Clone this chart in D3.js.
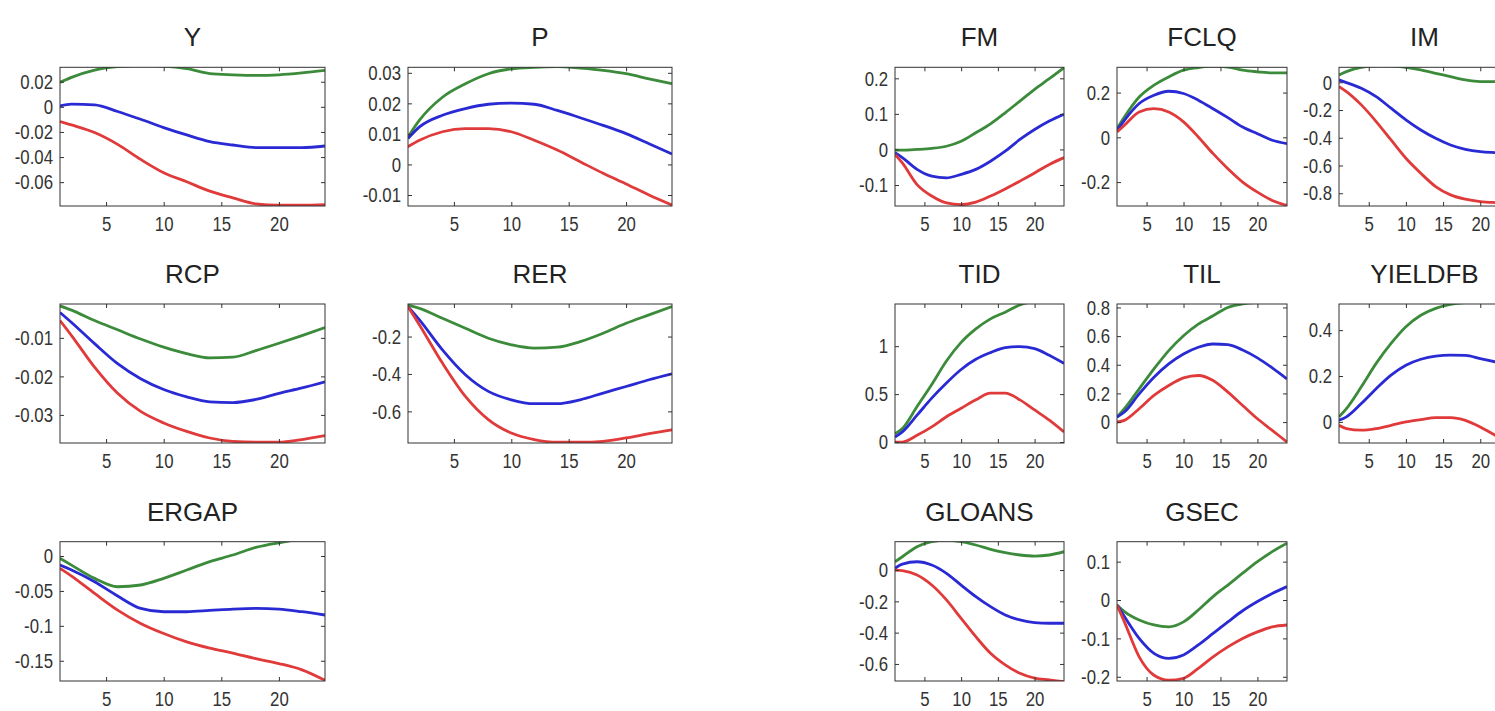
<!DOCTYPE html>
<html lang="en">
<head>
<meta charset="UTF-8">
<title>Impulse responses</title>
<style>
    body { margin: 0; background: #fff; }
    svg { display: block; background: #fff; }
    .frame { fill: none; stroke: #333; stroke-width: 1; }
    .axis line { stroke: #333; }
    .axis path { display: none; }
    .axis text { font-family: "Liberation Sans", Arial, sans-serif; font-size: 21px; fill: #333; }
    .title { font-family: "Liberation Sans", Arial, sans-serif; font-size: 26px; fill: #222; text-anchor: middle; }
    .line { fill: none; stroke-width: 2.8; }
</style>
</head>
<body>
<div id="chart"></div>
<script src="https://cdn.jsdelivr.net/npm/d3@7/dist/d3.min.js"></script>
<script>
    // horizon shared by every panel
    var periods = [1, 2, 4, 6, 8, 10, 12, 14, 16, 18, 20, 22, 24];
    var xTicks = [5, 10, 15, 20];

    // upper (green), median (blue), lower (red) bands per variable
    var Y_hi  = [0.0195, 0.0235, 0.0293, 0.032, 0.033, 0.0325, 0.0305, 0.0265, 0.0255, 0.025, 0.0255, 0.027, 0.029];
    var Y_mid = [0.0008, 0.0021, 0.0016, -0.0037, -0.0099, -0.0165, -0.0224, -0.0277, -0.0304, -0.0325, -0.0325, -0.0325, -0.0312];
    var Y_lo  = [-0.0117, -0.0144, -0.0205, -0.0299, -0.0419, -0.0525, -0.0597, -0.0672, -0.0725, -0.0773, -0.0784, -0.0784, -0.0779];
    var Y_ticks = [0.02, 0, -0.02, -0.04, -0.06];
    var Y_lim = [-0.079, 0.0315];

    var P_hi  = [0.009, 0.0145, 0.022, 0.0264, 0.0297, 0.0313, 0.0318, 0.032, 0.0315, 0.0308, 0.0297, 0.028, 0.0264];
    var P_mid = [0.0085, 0.0123, 0.0161, 0.0183, 0.0197, 0.0201, 0.0197, 0.0177, 0.0153, 0.0128, 0.0101, 0.0068, 0.0034];
    var P_lo  = [0.0058, 0.0079, 0.0107, 0.0117, 0.0117, 0.0107, 0.0079, 0.0047, 0.0009, -0.0029, -0.0064, -0.01, -0.0133];
    var P_ticks = [0.03, 0.02, 0.01, 0, -0.01];
    var P_lim = [-0.0136, 0.0318];

    var RCP_hi  = [-0.0017, -0.0028, -0.0055, -0.0079, -0.0103, -0.0124, -0.0141, -0.0152, -0.015, -0.0133, -0.0114, -0.0094, -0.0073];
    var RCP_mid = [-0.0034, -0.006, -0.0115, -0.0167, -0.0206, -0.0234, -0.0253, -0.0266, -0.0268, -0.026, -0.0244, -0.023, -0.0214];
    var RCP_lo  = [-0.0055, -0.0094, -0.0176, -0.0244, -0.0291, -0.0321, -0.0343, -0.036, -0.0369, -0.0371, -0.0371, -0.0364, -0.0354];
    var RCP_ticks = [-0.01, -0.02, -0.03];
    var RCP_lim = [-0.0373, -0.0012];

    var RER_hi  = [-0.031, -0.049, -0.102, -0.156, -0.209, -0.244, -0.262, -0.257, -0.227, -0.182, -0.129, -0.084, -0.04];
    var RER_mid = [-0.04, -0.111, -0.271, -0.404, -0.493, -0.538, -0.559, -0.559, -0.538, -0.502, -0.467, -0.431, -0.399];
    var RER_lo  = [-0.04, -0.138, -0.342, -0.52, -0.644, -0.716, -0.751, -0.765, -0.765, -0.76, -0.742, -0.719, -0.698];
    var RER_ticks = [-0.2, -0.4, -0.6];
    var RER_lim = [-0.769, -0.026];

    var ERGAP_hi  = [-0.0033, -0.013, -0.032, -0.044, -0.0415, -0.032, -0.02, -0.008, 0.0014, 0.0124, 0.019, 0.024, 0.027];
    var ERGAP_mid = [-0.013, -0.02, -0.0368, -0.0573, -0.075, -0.0798, -0.0798, -0.078, -0.076, -0.075, -0.076, -0.0798, -0.0845];
    var ERGAP_lo  = [-0.0177, -0.0287, -0.0535, -0.0774, -0.0965, -0.111, -0.123, -0.132, -0.139, -0.147, -0.154, -0.163, -0.178];
    var ERGAP_ticks = [0, -0.05, -0.1, -0.15];
    var ERGAP_lim = [-0.179, 0.0205];

    var FM_hi  = [-0.002, -0.002, 0, 0.003, 0.009, 0.023, 0.047, 0.072, 0.103, 0.136, 0.169, 0.199, 0.23];
    var FM_mid = [-0.009, -0.023, -0.056, -0.075, -0.08, -0.07, -0.056, -0.033, -0.005, 0.028, 0.056, 0.08, 0.099];
    var FM_lo  = [-0.014, -0.038, -0.099, -0.131, -0.15, -0.155, -0.148, -0.131, -0.111, -0.089, -0.066, -0.042, -0.023];
    var FM_ticks = [0.2, 0.1, 0, -0.1];
    var FM_lim = [-0.159, 0.231];

    var FCLQ_hi  = [0.039, 0.091, 0.18, 0.233, 0.27, 0.3, 0.312, 0.318, 0.314, 0.3, 0.293, 0.288, 0.288];
    var FCLQ_mid = [0.031, 0.076, 0.151, 0.188, 0.206, 0.196, 0.166, 0.128, 0.088, 0.046, 0.016, -0.013, -0.028];
    var FCLQ_lo  = [0.024, 0.054, 0.113, 0.128, 0.113, 0.069, 0.0015, -0.073, -0.14, -0.2, -0.245, -0.282, -0.304];
    var FCLQ_ticks = [0.2, 0, -0.2];
    var FCLQ_lim = [-0.307, 0.313];

    var IM_hi  = [0.053, 0.077, 0.108, 0.12, 0.118, 0.108, 0.089, 0.065, 0.041, 0.017, 0.005, 0.005, 0.006];
    var IM_mid = [0.017, -0.002, -0.043, -0.103, -0.187, -0.271, -0.344, -0.404, -0.452, -0.483, -0.5, -0.507, -0.512];
    var IM_lo  = [-0.031, -0.067, -0.163, -0.283, -0.416, -0.548, -0.656, -0.752, -0.812, -0.843, -0.86, -0.867, -0.87];
    var IM_ticks = [0, -0.2, -0.4, -0.6, -0.8];
    var IM_lim = [-0.892, 0.108];

    var TID_hi  = [0.088, 0.141, 0.37, 0.6, 0.845, 1.04, 1.18, 1.285, 1.355, 1.43, 1.47, 1.49, 1.5];
    var TID_mid = [0.053, 0.106, 0.28, 0.458, 0.616, 0.757, 0.863, 0.933, 0.986, 0.996, 0.975, 0.905, 0.82];
    var TID_lo  = [0, 0, 0.07, 0.158, 0.264, 0.352, 0.44, 0.51, 0.51, 0.44, 0.335, 0.229, 0.106];
    var TID_ticks = [1, 0.5, 0];
    var TID_lim = [-0.01, 1.44];

    var TIL_hi  = [0.035, 0.093, 0.232, 0.371, 0.499, 0.603, 0.684, 0.742, 0.8, 0.825, 0.835, 0.84, 0.84];
    var TIL_mid = [0.035, 0.07, 0.197, 0.313, 0.406, 0.475, 0.522, 0.545, 0.54, 0.503, 0.448, 0.378, 0.301];
    var TIL_lo  = [0, 0.012, 0.093, 0.186, 0.255, 0.308, 0.325, 0.29, 0.209, 0.116, 0.023, -0.058, -0.139];
    var TIL_ticks = [0.8, 0.6, 0.4, 0.2, 0];
    var TIL_lim = [-0.146, 0.824];

    var YIELDFB_hi  = [0.022, 0.058, 0.153, 0.255, 0.342, 0.415, 0.465, 0.495, 0.512, 0.52, 0.52, 0.52, 0.51];
    var YIELDFB_mid = [0.007, 0.022, 0.08, 0.145, 0.204, 0.247, 0.273, 0.287, 0.291, 0.29, 0.276, 0.262, 0.247];
    var YIELDFB_lo  = [-0.015, -0.029, -0.036, -0.029, -0.015, 0, 0.01, 0.019, 0.019, 0.007, -0.022, -0.058, -0.087];
    var YIELDFB_ticks = [0.4, 0.2, 0];
    var YIELDFB_lim = [-0.092, 0.514];

    var GLOANS_hi  = [0.053, 0.085, 0.149, 0.181, 0.19, 0.181, 0.16, 0.132, 0.111, 0.096, 0.089, 0.096, 0.117];
    var GLOANS_mid = [0.011, 0.038, 0.053, 0.032, -0.021, -0.096, -0.17, -0.234, -0.287, -0.319, -0.336, -0.34, -0.34];
    var GLOANS_lo  = [0, -0.004, -0.032, -0.096, -0.191, -0.309, -0.426, -0.532, -0.606, -0.66, -0.691, -0.702, -0.713];
    var GLOANS_ticks = [0, -0.2, -0.4, -0.6];
    var GLOANS_lim = [-0.709, 0.181];

    var GSEC_hi  = [-0.013, -0.03, -0.052, -0.065, -0.07, -0.057, -0.026, 0.009, 0.039, 0.07, 0.1, 0.126, 0.148];
    var GSEC_mid = [-0.013, -0.043, -0.1, -0.139, -0.152, -0.143, -0.117, -0.087, -0.057, -0.028, -0.004, 0.017, 0.035];
    var GSEC_lo  = [-0.013, -0.057, -0.148, -0.196, -0.209, -0.204, -0.178, -0.148, -0.122, -0.1, -0.083, -0.07, -0.065];
    var GSEC_ticks = [0.1, 0, -0.1, -0.2];
    var GSEC_lim = [-0.211, 0.152];

    // layout of the grid (pixel columns / rows)
    var cols = [[60, 325], [408, 672], [895, 1064], [1117, 1287], [1339, 1510]];
    var rows = [[67.3, 206], [304, 443], [541.7, 681]];
    var colors = { hi: '#3b8b3b', mid: '#2a2ad4', lo: '#e03a3a' };

    var panels = [
        { name: 'Y',       c: 0, r: 0, hi: Y_hi, mid: Y_mid, lo: Y_lo, ticks: Y_ticks, lim: Y_lim },
        { name: 'P',       c: 1, r: 0, hi: P_hi, mid: P_mid, lo: P_lo, ticks: P_ticks, lim: P_lim },
        { name: 'RCP',     c: 0, r: 1, hi: RCP_hi, mid: RCP_mid, lo: RCP_lo, ticks: RCP_ticks, lim: RCP_lim },
        { name: 'RER',     c: 1, r: 1, hi: RER_hi, mid: RER_mid, lo: RER_lo, ticks: RER_ticks, lim: RER_lim },
        { name: 'ERGAP',   c: 0, r: 2, hi: ERGAP_hi, mid: ERGAP_mid, lo: ERGAP_lo, ticks: ERGAP_ticks, lim: ERGAP_lim },
        { name: 'FM',      c: 2, r: 0, hi: FM_hi, mid: FM_mid, lo: FM_lo, ticks: FM_ticks, lim: FM_lim },
        { name: 'FCLQ',    c: 3, r: 0, hi: FCLQ_hi, mid: FCLQ_mid, lo: FCLQ_lo, ticks: FCLQ_ticks, lim: FCLQ_lim },
        { name: 'IM',      c: 4, r: 0, hi: IM_hi, mid: IM_mid, lo: IM_lo, ticks: IM_ticks, lim: IM_lim },
        { name: 'TID',     c: 2, r: 1, hi: TID_hi, mid: TID_mid, lo: TID_lo, ticks: TID_ticks, lim: TID_lim },
        { name: 'TIL',     c: 3, r: 1, hi: TIL_hi, mid: TIL_mid, lo: TIL_lo, ticks: TIL_ticks, lim: TIL_lim },
        { name: 'YIELDFB', c: 4, r: 1, hi: YIELDFB_hi, mid: YIELDFB_mid, lo: YIELDFB_lo, ticks: YIELDFB_ticks, lim: YIELDFB_lim },
        { name: 'GLOANS',  c: 2, r: 2, hi: GLOANS_hi, mid: GLOANS_mid, lo: GLOANS_lo, ticks: GLOANS_ticks, lim: GLOANS_lim },
        { name: 'GSEC',    c: 3, r: 2, hi: GSEC_hi, mid: GSEC_mid, lo: GSEC_lo, ticks: GSEC_ticks, lim: GSEC_lim }
    ];

    var width = 1495, height = 711;

    var svg = d3.select('#chart')
        .append('svg')
        .attr('width', width)
        .attr('height', height);

    var fmt = function(d) { return d === 0 ? '0' : String(d); };

    panels.forEach(function(p, i) {
        var x0 = cols[p.c][0], x1 = cols[p.c][1];
        var y0 = rows[p.r][0], y1 = rows[p.r][1];
        var w = x1 - x0, h = y1 - y0;

        var xScale = d3.scaleLinear().domain([1, 24]).range([0, w]);
        var yScale = d3.scaleLinear().domain(p.lim).range([h, 0]);

        var g = svg.append('g').attr('transform', 'translate(' + x0 + ',' + y0 + ')');

        g.append('clipPath').attr('id', 'clip' + i)
            .append('rect').attr('width', w).attr('height', h);

        // title
        g.append('text').attr('class', 'title')
            .attr('x', w / 2).attr('y', -21)
            .text(p.name);

        // lines
        var line = d3.line()
            .x(function(d, k) { return xScale(periods[k]); })
            .y(function(d) { return yScale(d); })
            .curve(d3.curveMonotoneX);

        ['hi', 'mid', 'lo'].forEach(function(key) {
            g.append('path')
                .attr('class', 'line')
                .attr('clip-path', 'url(#clip' + i + ')')
                .attr('stroke', colors[key])
                .attr('d', line(p[key]));
        });

        // axes, ticks pointing inward like matlab
        var left = g.append('g').attr('class', 'axis')
            .call(d3.axisLeft(yScale).tickValues(p.ticks).tickFormat(fmt).tickSize(-4).tickPadding(7));
        left.selectAll('text')
            .attr('x', -7 / 0.8)
            .attr('transform', 'scale(0.8,1)');

        g.append('g').attr('class', 'axis')
            .attr('transform', 'translate(' + w + ',0)')
            .call(d3.axisRight(yScale).tickValues(p.ticks).tickFormat('').tickSize(-4));

        var bottom = g.append('g').attr('class', 'axis')
            .attr('transform', 'translate(0,' + h + ')')
            .call(d3.axisBottom(xScale).tickValues(xTicks).tickFormat(d3.format('d')).tickSize(-4));
        bottom.selectAll('text')
            .attr('y', 25)
            .attr('dy', 0)
            .attr('transform', 'scale(0.8,1)');

        g.append('g').attr('class', 'axis')
            .call(d3.axisTop(xScale).tickValues(xTicks).tickFormat('').tickSize(-4));

        g.append('rect').attr('class', 'frame')
            .attr('width', w).attr('height', h);
    });
</script>
</body>
</html>
